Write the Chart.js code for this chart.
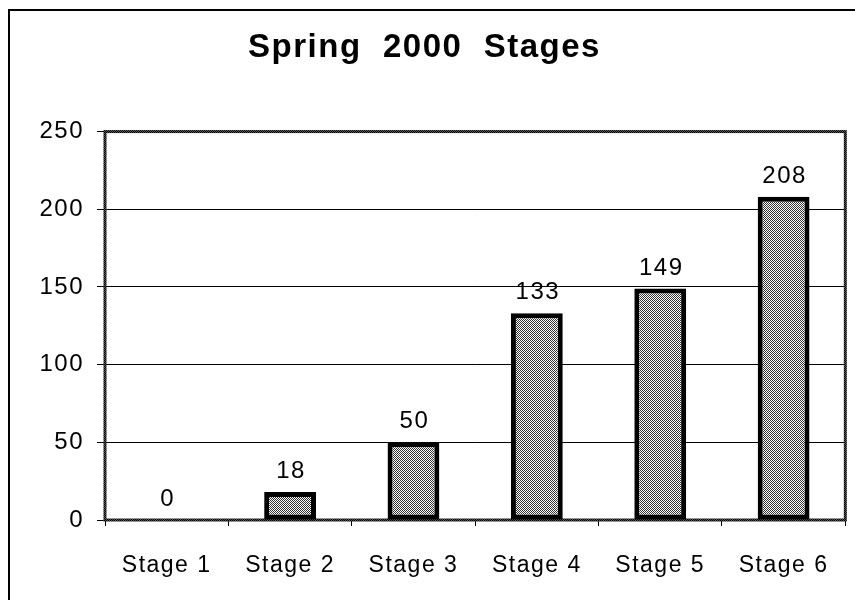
<!DOCTYPE html>
<html>
<head>
<meta charset="utf-8">
<script src="https://cdn.jsdelivr.net/npm/chart.js@4/dist/chart.umd.min.js"></script>
<style>
  html, body { margin: 0; padding: 0; background: #fff; }
  #wrap { width: 855px; height: 600px; }
</style>
</head>
<body>
<div id="wrap"><canvas id="stages"></canvas></div>
<script>
// data
const stageLabels = ['Stage 1', 'Stage 2', 'Stage 3', 'Stage 4', 'Stage 5', 'Stage 6'];
const stageCounts = [0, 18, 50, 133, 149, 208];
const yTicks = [0, 50, 100, 150, 200, 250];

const FONT = "'Liberation Sans', Arial, Helvetica, sans-serif";

// dotted grey fill like the old halftone bars
function dotPattern(dark, light) {
  const c = document.createElement('canvas');
  c.width = 2; c.height = 2;
  const g = c.getContext('2d');
  g.fillStyle = light; g.fillRect(0, 0, 2, 2);
  g.fillStyle = dark;
  g.fillRect(0, 0, 1, 1);
  g.fillRect(1, 1, 1, 1);
  return g.createPattern(c, 'repeat');
}
const barFill = dotPattern('#333', '#fff');
const frameFill = dotPattern('#000', '#555');

const spacing = {
  id: 'spacing',
  beforeUpdate(chart) { chart.ctx.letterSpacing = '1.5px'; },
  beforeDraw(chart) {
    const ctx = chart.ctx;
    ctx.letterSpacing = '1.5px';
    ctx.save();
    ctx.fillStyle = '#fff';
    ctx.fillRect(0, 0, chart.width, chart.height);
    // outer frame, left and top edges only
    ctx.strokeStyle = '#000';
    ctx.lineWidth = 2;
    ctx.beginPath();
    ctx.moveTo(9, chart.height);
    ctx.lineTo(9, 10);
    ctx.lineTo(chart.width, 10);
    ctx.stroke();
    ctx.restore();
  }
};

const plotFrame = {
  id: 'plotFrame',
  beforeDatasetsDraw(chart) {
    const a = chart.chartArea;
    const ctx = chart.ctx;
    ctx.save();
    ctx.strokeStyle = frameFill;
    ctx.lineWidth = 3;
    ctx.strokeRect(a.left, a.top, a.right - a.left, a.bottom - a.top);
    ctx.restore();
  }
};

const valueLabels = {
  id: 'valueLabels',
  afterDatasetsDraw(chart) {
    const ctx = chart.ctx;
    const meta = chart.getDatasetMeta(0);
    ctx.save();
    ctx.fillStyle = '#000';
    ctx.font = '24px ' + FONT;
    ctx.textAlign = 'center';
    ctx.textBaseline = 'alphabetic';
    meta.data.forEach((bar, i) => {
      ctx.fillText(String(stageCounts[i]), bar.x + 1, bar.y - 14);
    });
    ctx.restore();
  }
};

new Chart(document.getElementById('stages'), {
  type: 'bar',
  data: {
    labels: stageLabels,
    datasets: [{
      data: stageCounts,
      backgroundColor: barFill,
      borderColor: '#000',
      borderWidth: 5,
      borderSkipped: false,
      categoryPercentage: 1,
      barPercentage: 0.42
    }]
  },
  options: {
    responsive: true,
    maintainAspectRatio: false,
    animation: false,
    layout: { padding: { left: 0, right: 6, top: 0, bottom: 0 } },
    plugins: {
      legend: { display: false },
      tooltip: { enabled: false },
      title: {
        display: true,
        text: 'Spring  2000  Stages',
        color: '#000',
        font: { family: FONT, size: 33, weight: 'bold' },
        padding: { top: 28, bottom: 64 }
      }
    },
    scales: {
      x: {
        border: { display: false },
        grid: { drawOnChartArea: false, drawTicks: true, tickLength: 6, color: '#000', offset: true },
        ticks: { color: '#000', font: { family: FONT, size: 23 }, padding: 26 },
        afterFit(s) { s.height = 80; }
      },
      y: {
        min: 0,
        max: 250,
        border: { display: false },
        grid: { color: '#000', lineWidth: 1, tickLength: 8 },
        afterBuildTicks(s) { s.ticks = yTicks.map(v => ({ value: v })); },
        ticks: { color: '#000', font: { family: FONT, size: 24 }, padding: 13 },
        afterFit(s) { s.width = 105; }
      }
    }
  },
  plugins: [spacing, plotFrame, valueLabels]
});
</script>
</body>
</html>
